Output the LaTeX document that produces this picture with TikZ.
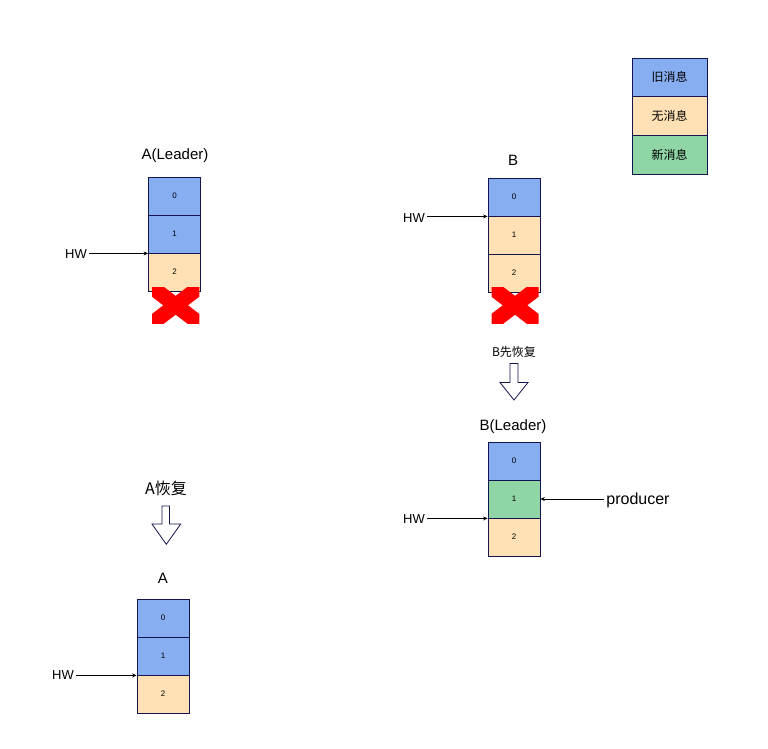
\documentclass[tikz,border=0pt]{standalone}
\usepackage{fontspec}
\setmainfont{Liberation Sans}
\newfontfamily\cjk{Noto Sans CJK SC}
\usetikzlibrary{arrows.meta}
\definecolor{navy}{HTML}{14144E}
\definecolor{oldblue}{HTML}{88AEF2}
\definecolor{nomsg}{HTML}{FFE1B5}
\definecolor{newgreen}{HTML}{90D5A6}
\definecolor{xred}{HTML}{FF0000}
\tikzset{
  cell/.style={rectangle, draw=navy, line width=0.8pt, minimum width=52pt, minimum height=38pt, inner sep=0pt, font=\fontsize{8}{9}\selectfont},
  old/.style={cell, fill=oldblue},
  none/.style={cell, fill=nomsg},
  fresh/.style={cell, fill=newgreen},
  legcell/.style={rectangle, draw=navy, line width=0.8pt, minimum width=75pt, minimum height=38.7pt, inner sep=0pt, font=\cjk\fontsize{12}{13}\selectfont},
  title/.style={inner sep=1pt, font=\fontsize{15}{17}\selectfont},
  hw/.style={inner sep=2pt, font=\fontsize{13}{15}\selectfont},
  ptr/.style={-{Stealth[length=4.5pt,width=4pt]}, line width=0.7pt, black},
  blockarrow/.style={draw=navy, line width=0.8pt, fill=white, line join=miter},
}
\newcommand{\redx}[4]{%
  \begin{scope}
    \clip (#1,#2) rectangle (#3,#4);
    \draw[xred, line width=15pt] (#1,#2) -- (#3,#4);
    \draw[xred, line width=15pt] (#3,#2) -- (#1,#4);
  \end{scope}}
\begin{document}
\begin{tikzpicture}[x=1pt,y=-1pt]
\useasboundingbox (0,0) rectangle (768,748);
\fill[white] (0,0) rectangle (768,748);

% legend
\node[legcell, fill=oldblue] (l0) at (669.5,77.3) {旧消息};
\node[legcell, fill=nomsg] (l1) at (669.5,116) {无消息};
\node[legcell, fill=newgreen] (l2) at (669.5,154.7) {新消息};

% A(Leader)
\node[title] (ta) at (175,156) {A(Leader)};
\node[old] (a0) at (174.5,196) {0};
\node[old] (a1) at (174.5,234) {1};
\node[none] (a2) at (174.5,272) {2};
\node[hw] (hwa) at (76,254) {HW};
\draw[ptr] (hwa.east |- a1.south west) -- (a1.south west);
\redx{152}{287.3}{199.3}{323.3}

% B
\node[title] (tb) at (513,160) {B};
\node[old] (b0) at (514,197) {0};
\node[none] (b1) at (514,235) {1};
\node[none] (b2) at (514,273) {2};
\node[hw] (hwb) at (414,218) {HW};
\draw[ptr] (hwb.east |- b0.south west) -- (b0.south west);
\redx{491.5}{287.3}{538.5}{323.3}

% B recovers
\node[inner sep=1pt, font=\cjk\fontsize{12}{13}\selectfont] (tbr) at (514,352) {B先恢复};
\draw[blockarrow] (510,363.5) -- (518,363.5) -- (518,382.5) -- (528,382.5) -- (514,400) -- (500,382.5) -- (510,382.5) -- cycle;

% B(Leader)
\node[title] (tbl) at (513,427) {B(Leader)};
\node[old] (c0) at (514,461) {0};
\node[fresh] (c1) at (514,499) {1};
\node[none] (c2) at (514,537) {2};
\node[hw] (hwc) at (414,519) {HW};
\draw[ptr] (hwc.east |- c1.south west) -- (c1.south west);
\node[inner sep=2pt, font=\fontsize{16}{18}\selectfont] (prod) at (638,500) {producer};
\draw[ptr] (prod.west |- c1.east) -- (c1.east);

% A recovers
\node[inner sep=1pt, font=\cjk\fontsize{16}{18}\selectfont] (tar) at (166,488) {A恢复};
\draw[blockarrow] (162,506) -- (169.5,506) -- (169.5,524) -- (180.7,524) -- (166.3,544.3) -- (152,524) -- (162,524) -- cycle;

% A
\node[title] (tA) at (163,578) {A};
\node[old] (d0) at (163,618) {0};
\node[old] (d1) at (163,656) {1};
\node[none] (d2) at (163,694) {2};
\node[hw] (hwd) at (63,675) {HW};
\draw[ptr] (hwd.east |- d1.south west) -- (d1.south west);
\end{tikzpicture}
\end{document}
